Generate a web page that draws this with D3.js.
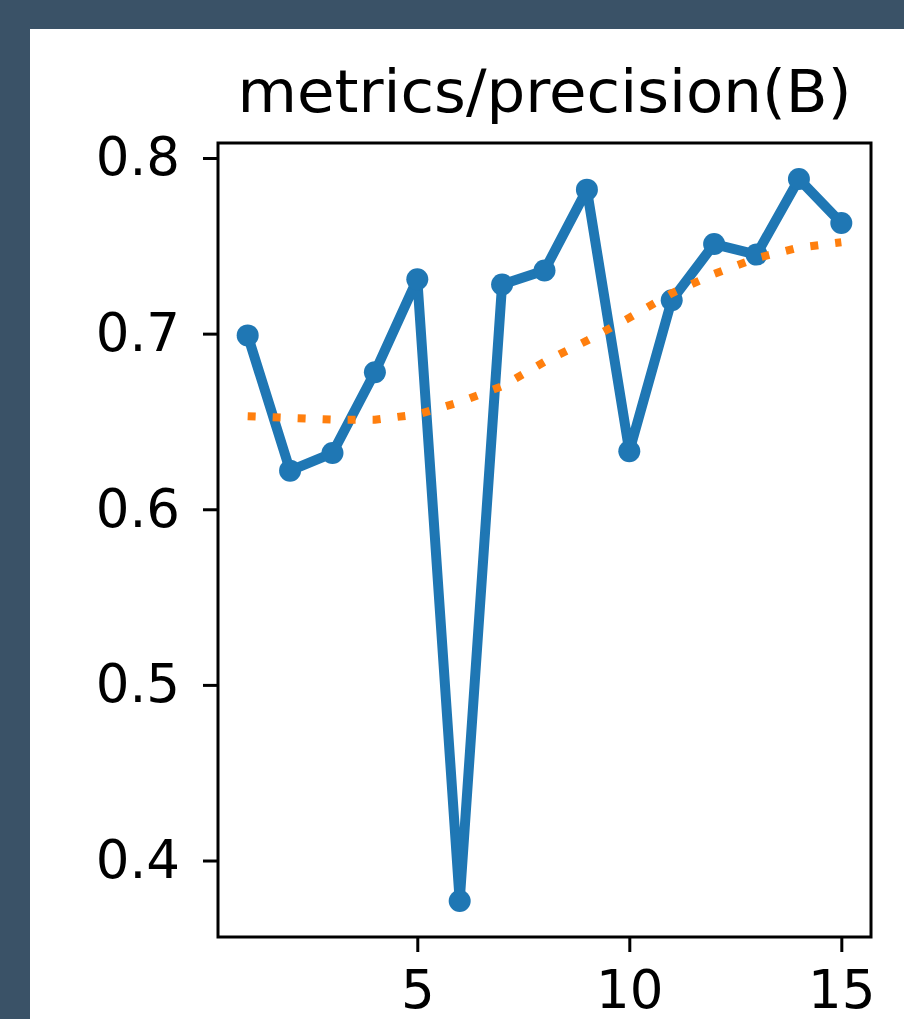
<!DOCTYPE html>
<html>
<head>
<meta charset="utf-8">
<script src="https://cdn.jsdelivr.net/npm/d3@7"></script>
<style>
  html, body { margin: 0; padding: 0; background: #3a5267; }
  svg { display: block; }
</style>
</head>
<body>
<svg id="chart" width="904" height="1019"></svg>
<script>
// Data
let epochs = [1, 2, 3, 4, 5, 6, 7, 8, 9, 10, 11, 12, 13, 14, 15];
let precision = [0.699, 0.622, 0.632, 0.678, 0.731, 0.377, 0.728, 0.736, 0.782, 0.633,
                 0.719, 0.751, 0.745, 0.788, 0.763];
let smooth = [0.653, 0.652, 0.651, 0.651, 0.654, 0.661, 0.670, 0.684, 0.696, 0.709,
              0.723, 0.734, 0.743, 0.749, 0.752];
let xTicks = [5, 10, 15];
let yTicks = [0.4, 0.5, 0.6, 0.7, 0.8];
let title = "metrics/precision(B)";

let svg = d3.select("#chart"),
    width = +svg.attr("width"),
    height = +svg.attr("height");

let font = "'DejaVu Sans', sans-serif";

// Plot box
let plotLeft = 218, plotRight = 871, plotTop = 143, plotBottom = 937;

// Outer frame and white panel
svg.append("rect")
    .attr("width", width)
    .attr("height", height)
    .attr("fill", "#3a5267");
svg.append("rect")
    .attr("x", 30)
    .attr("y", 29)
    .attr("width", width - 30)
    .attr("height", height - 29)
    .attr("fill", "white");

// matplotlib style 5% margins
let xExt = d3.extent(epochs), yExt = d3.extent(precision.concat(smooth));
let xPad = (xExt[1] - xExt[0]) * 0.05, yPad = (yExt[1] - yExt[0]) * 0.05;

let x = d3.scaleLinear().domain([xExt[0] - xPad, xExt[1] + xPad]).range([plotLeft, plotRight]);
let y = d3.scaleLinear().domain([yExt[0] - yPad, yExt[1] + yPad]).range([plotBottom, plotTop]);

// Clip to the axes area
svg.append("clipPath").attr("id", "clip")
    .append("rect")
    .attr("x", plotLeft).attr("y", plotTop)
    .attr("width", plotRight - plotLeft).attr("height", plotBottom - plotTop);

let plot = svg.append("g").attr("clip-path", "url(#clip)");

let line = d3.line()
    .x(function (d, i) { return x(epochs[i]); })
    .y(function (d) { return y(d); });

// Results line
plot.append("path")
    .datum(precision)
    .attr("d", line)
    .attr("fill", "none")
    .attr("stroke", "#1f77b4")
    .attr("stroke-width", 10)
    .attr("stroke-linejoin", "round");

plot.selectAll("circle.pt")
    .data(precision)
    .enter()
    .append("circle")
    .attr("class", "pt")
    .attr("cx", function (d, i) { return x(epochs[i]); })
    .attr("cy", function (d) { return y(d); })
    .attr("r", 11)
    .attr("fill", "#1f77b4");

// Smoothed line
plot.append("path")
    .datum(smooth)
    .attr("d", line)
    .attr("fill", "none")
    .attr("stroke", "#ff7f0e")
    .attr("stroke-width", 8)
    .attr("stroke-dasharray", "8 17");

// Axes
let yAxis = svg.append("g")
    .attr("transform", "translate(" + plotLeft + ",0)")
    .call(d3.axisLeft(y).tickValues(yTicks).tickFormat(d3.format(".1f")).tickSize(15).tickPadding(23));

let xAxis = svg.append("g")
    .attr("transform", "translate(0," + plotBottom + ")")
    .call(d3.axisBottom(x).tickValues(xTicks).tickFormat(d3.format("d")).tickSize(15).tickPadding(18));

[xAxis, yAxis].forEach(function (ax) {
    ax.select(".domain").remove();
    ax.selectAll("line").attr("stroke", "black").attr("stroke-width", 3);
    ax.selectAll("text")
        .attr("fill", "black")
        .style("font-family", font)
        .style("font-size", "53px");
});

// Spines
svg.append("rect")
    .attr("x", plotLeft)
    .attr("y", plotTop)
    .attr("width", plotRight - plotLeft)
    .attr("height", plotBottom - plotTop)
    .attr("fill", "none")
    .attr("stroke", "black")
    .attr("stroke-width", 3);

// Title
svg.append("text")
    .attr("x", (plotLeft + plotRight) / 2)
    .attr("y", 112)
    .attr("text-anchor", "middle")
    .attr("textLength", 614)
    .attr("lengthAdjust", "spacingAndGlyphs")
    .style("font-family", font)
    .style("font-size", "58px")
    .attr("fill", "black")
    .text(title);
</script>
</body>
</html>
